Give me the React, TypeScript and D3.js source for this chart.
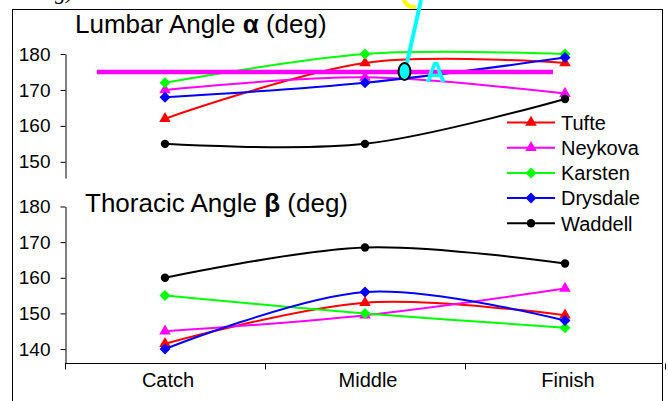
import React, { useEffect, useRef } from 'react';
import * as d3 from 'd3';

// chart data
const categories = ['Catch', 'Middle', 'Finish'];
const seriesNames = ['Tufte', 'Neykova', 'Karsten', 'Drysdale', 'Waddell'];
const seriesColors = ['#ff0000', '#ff00ff', '#00ff00', '#0000ff', '#000000'];
const seriesMarkers = ['triangle', 'triangle', 'diamond', 'diamond', 'circle'];

const lumbarTufte = [162, 177.5, 177.5];
const lumbarNeykova = [170, 173.5, 169];
const lumbarKarsten = [172, 180, 180];
const lumbarDrysdale = [168, 172, 179];
const lumbarWaddell = [155, 155, 167.5];

const thoracicTufte = [141.5, 153, 149.5];
const thoracicNeykova = [145, 149.5, 157];
const thoracicKarsten = [155, 150, 146];
const thoracicDrysdale = [140, 156, 148];
const thoracicWaddell = [160, 168.5, 164];

const lumbarTicks = [150, 160, 170, 180];
const thoracicTicks = [140, 150, 160, 170, 180];
const referenceAngle = 175;

const lumbarSeries = [lumbarTufte, lumbarNeykova, lumbarKarsten, lumbarDrysdale, lumbarWaddell];
const thoracicSeries = [thoracicTufte, thoracicNeykova, thoracicKarsten, thoracicDrysdale, thoracicWaddell];

const W = 668;
const H = 401;
const FONT = '"Liberation Sans", Arial, sans-serif';

const App = () => {
  const svgRef = useRef<SVGSVGElement | null>(null);

  useEffect(() => {
    const svg = d3.select(svgRef.current);
    svg.selectAll('*').remove();

    const x = d3.scaleBand<string>().domain(categories).range([65, 665]).padding(0);
    const cx = (c: string) => (x(c) as number) + x.bandwidth() / 2;

    const yTop = d3.scaleLinear().domain([145.5, 180]).range([178, 54]);
    const yBot = d3.scaleLinear().domain([136, 180]).range([363.3, 206.5]);

    // outer frame
    svg.append('rect')
      .attr('x', 12.5).attr('y', 9.5)
      .attr('width', 650).attr('height', 420)
      .attr('fill', 'white').attr('stroke', 'black').attr('stroke-width', 1);

    // cut-off caption text above the frame
    svg.append('text')
      .attr('x', 55).attr('y', -1)
      .style('font-family', '"Liberation Serif", "Times New Roman", serif')
      .style('font-style', 'italic').style('font-size', '22px')
      .text('g)');

    const drawAxis = (y: d3.ScaleLinear<number, number>, ticks: number[]) => {
      const g = svg.append('g').attr('transform', 'translate(65.5,0)')
        .call(d3.axisLeft(y).tickValues(ticks).tickSize(5).tickSizeOuter(0).tickPadding(10));
      g.select('.domain').attr('stroke', 'black');
      g.selectAll('line').attr('stroke', 'black');
      g.selectAll('text')
        .style('font-family', FONT).style('font-size', '19px').attr('fill', 'black');
    };
    drawAxis(yTop, lumbarTicks);
    drawAxis(yBot, thoracicTicks);

    // category axis
    svg.append('line')
      .attr('x1', 65).attr('x2', 662.5).attr('y1', 363.5).attr('y2', 363.5)
      .attr('stroke', 'black');
    svg.selectAll('.xtick')
      .data(categories.concat(['end']))
      .enter().append('line')
      .attr('x1', (d, i) => 65.5 + i * x.bandwidth())
      .attr('x2', (d, i) => 65.5 + i * x.bandwidth())
      .attr('y1', 363.5).attr('y2', 369.5)
      .attr('stroke', 'black');
    svg.selectAll('.xlabel')
      .data(categories)
      .enter().append('text')
      .attr('x', d => cx(d) + 3).attr('y', 386.5)
      .attr('text-anchor', 'middle')
      .style('font-family', FONT).style('font-size', '20px')
      .text(d => d);

    // panel titles
    const title = (tx: number, ty: number, name: string, sym: string) => {
      const t = svg.append('text').attr('x', tx).attr('y', ty)
        .style('font-family', FONT).style('font-size', '26px');
      t.append('tspan').text(name + ' ');
      t.append('tspan').style('font-weight', 'bold').text(sym);
      t.append('tspan').text(' (deg)');
    };
    title(75, 33, 'Lumbar Angle', 'α');
    title(85, 212, 'Thoracic Angle', 'β');

    const marker = (g: d3.Selection<SVGGElement, unknown, null, undefined>, kind: string, px: number, py: number, color: string) => {
      if (kind === 'triangle') {
        g.append('path')
          .attr('d', d3.symbol().type(d3.symbolTriangle).size(58)())
          .attr('transform', `translate(${px},${py})`)
          .attr('fill', color);
      } else if (kind === 'diamond') {
        const r = 5.5;
        g.append('path')
          .attr('d', `M0,${-r}L${r},0L0,${r}L${-r},0Z`)
          .attr('transform', `translate(${px},${py})`)
          .attr('fill', color);
      } else {
        g.append('circle').attr('cx', px).attr('cy', py).attr('r', 4.2).attr('fill', color);
      }
    };

    const drawPanel = (data: number[][], y: d3.ScaleLinear<number, number>) => {
      data.forEach((vals, si) => {
        const g = svg.append('g');
        const line = d3.line<number>()
          .x((d, i) => cx(categories[i]))
          .y(d => y(d))
          .curve(d3.curveCardinal.tension(0));
        g.append('path')
          .attr('d', line(vals))
          .attr('fill', 'none')
          .attr('stroke', seriesColors[si])
          .attr('stroke-width', 2);
        vals.forEach((v, i) => marker(g, seriesMarkers[si], cx(categories[i]), y(v), seriesColors[si]));
      });
    };
    drawPanel(lumbarSeries, yTop);
    drawPanel(thoracicSeries, yBot);

    // legend
    const legend = svg.append('g');
    seriesNames.forEach((name, i) => {
      const ly = 122.5 + i * 25.2;
      const g = legend.append('g');
      g.append('line').attr('x1', 507).attr('x2', 555).attr('y1', ly).attr('y2', ly)
        .attr('stroke', seriesColors[i]).attr('stroke-width', 2);
      marker(g, seriesMarkers[i], 531, ly, seriesColors[i]);
      g.append('text').attr('x', 561).attr('y', ly).attr('dy', '0.36em')
        .style('font-family', FONT).style('font-size', '20px')
        .text(name);
    });

    // hand-drawn annotations on top of the chart
    svg.append('path')
      .attr('d', 'M404,0 Q407,8 416,7')
      .attr('fill', 'none').attr('stroke', '#ffff00').attr('stroke-width', 4);
    svg.append('line')
      .attr('x1', 421).attr('y1', 0).attr('x2', 407).attr('y2', 63)
      .attr('stroke', '#00ffff').attr('stroke-width', 4);
    svg.append('line')
      .attr('x1', 97).attr('x2', 553)
      .attr('y1', yTop(referenceAngle)).attr('y2', yTop(referenceAngle))
      .attr('stroke', '#ff00ff').attr('stroke-width', 4.5);
    svg.append('ellipse')
      .attr('cx', 404.5).attr('cy', yTop(referenceAngle) - 0.5)
      .attr('rx', 6).attr('ry', 8.5)
      .attr('fill', '#00ffff').attr('stroke', 'black').attr('stroke-width', 2);
    svg.append('text')
      .attr('x', 435.5).attr('y', 82)
      .attr('text-anchor', 'middle')
      .style('font-family', FONT).style('font-weight', 'bold').style('font-size', '29px')
      .attr('fill', '#00ffff')
      .text('A');
  }, []);

  return (
    <svg ref={svgRef} width={W} height={H}
      style={{ position: 'absolute', left: 0, top: 0, background: 'white' }}></svg>
  );
};

export default App;
